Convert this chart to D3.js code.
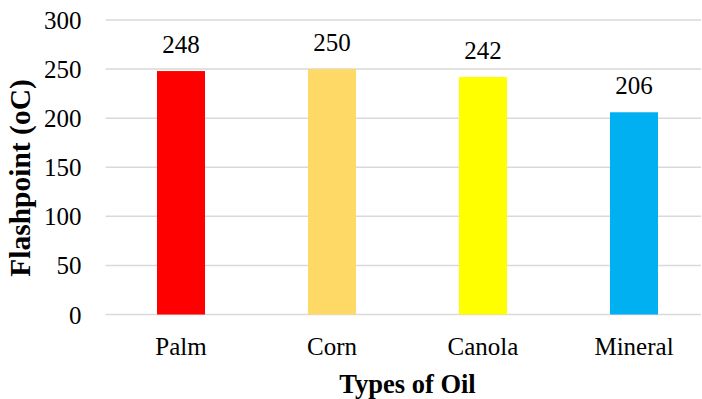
<!DOCTYPE html>
<html>
<head>
<meta charset="utf-8">
<script src="https://cdn.jsdelivr.net/npm/d3@7"></script>
<style>
  html, body { margin: 0; padding: 0; background: #fff; }
  svg { display: block; }
</style>
</head>
<body>
<svg id="chart" width="702" height="399"></svg>
<script>
// Flashpoint of different oils
const categories = ["Palm", "Corn", "Canola", "Mineral"];
const flashpoints = [248, 250, 242, 206];
const barColors = ["#FF0000", "#FFD966", "#FFFF00", "#00B0F0"];
const yTicks = [0, 50, 100, 150, 200, 250, 300];

const serif = "Liberation Serif";
const svg = d3.select("#chart");
const plot = { left: 105.5, right: 709.5, top: 20, bottom: 314.5 };

const x = d3.scaleBand()
  .domain(categories)
  .range([plot.left, plot.right])
  .paddingInner(0.682)
  .paddingOuter(0.341);

const y = d3.scaleLinear()
  .domain([0, 300])
  .range([plot.bottom, plot.top]);

// horizontal gridlines
svg.append("g")
  .selectAll("line")
  .data(yTicks)
  .join("line")
  .attr("x1", plot.left)
  .attr("x2", 701)
  .attr("y1", d => y(d))
  .attr("y2", d => y(d))
  .attr("stroke", "#d9d9d9")
  .attr("stroke-width", 1.5);

// y tick labels
const yAxis = svg.append("g")
  .attr("transform", `translate(${plot.left},0)`)
  .call(d3.axisLeft(y).tickValues(yTicks).tickSize(0).tickPadding(24));
yAxis.select(".domain").remove();
yAxis.selectAll("text")
  .attr("font-family", serif)
  .attr("font-size", 25)
  .attr("fill", "#000")
  .attr("dy", "0.34em");

// bars
svg.append("g")
  .selectAll("rect")
  .data(categories)
  .join("rect")
  .attr("x", d => x(d))
  .attr("width", x.bandwidth())
  .attr("y", (d, i) => y(flashpoints[i]))
  .attr("height", (d, i) => y(0) - y(flashpoints[i]))
  .attr("fill", (d, i) => barColors[i]);

// value labels
svg.append("g")
  .selectAll("text")
  .data(categories)
  .join("text")
  .attr("x", d => x(d) + x.bandwidth() / 2)
  .attr("y", (d, i) => y(flashpoints[i]) - 18)
  .attr("text-anchor", "middle")
  .attr("font-family", serif)
  .attr("font-size", 25)
  .attr("fill", "#000")
  .text((d, i) => flashpoints[i]);

// x category labels
const xAxis = svg.append("g")
  .attr("transform", `translate(0,${plot.bottom})`)
  .call(d3.axisBottom(x).tickSize(0).tickPadding(0));
xAxis.select(".domain").remove();
xAxis.selectAll("text")
  .attr("font-family", serif)
  .attr("font-size", 25)
  .attr("fill", "#000")
  .attr("dy", null)
  .attr("y", 40);

// axis titles
svg.append("text")
  .attr("x", (plot.left + plot.right) / 2)
  .attr("y", 393)
  .attr("text-anchor", "middle")
  .attr("font-family", serif)
  .attr("font-size", 26.5)
  .attr("font-weight", "bold")
  .text("Types of Oil");

svg.append("text")
  .attr("transform", `translate(29.5,178) rotate(-90)`)
  .attr("text-anchor", "middle")
  .attr("font-family", serif)
  .attr("font-size", 29.5)
  .attr("font-weight", "bold")
  .text("Flashpoint (oC)");
</script>
</body>
</html>
